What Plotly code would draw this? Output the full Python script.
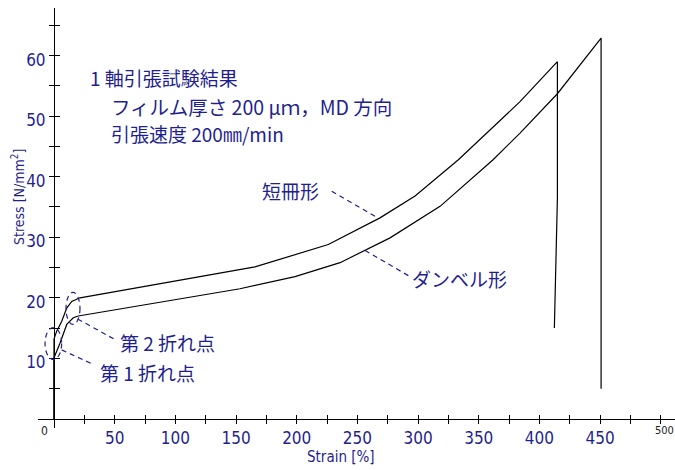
import plotly.graph_objects as go

# ---- data ----
tanzaku_strain = [0, 0, 2.2, 6.3, 10.5, 14.6, 21.4, 165.6, 226.0, 268.6, 297.5, 333.2, 384.0, 414.8, 414.8, 412.3]
tanzaku_stress = [0, 13.2, 14.5, 16.1, 18.3, 19.4, 20.0, 25.1, 28.8, 33.2, 36.8, 42.8, 52.4, 59.0, 36.5, 15.0]

dumbbell_strain = [0, 0, 4.9, 10.5, 15.9, 20.0, 153.3, 198.6, 235.7, 276.9, 318.1, 361.8, 384.0, 414.8, 450.8, 450.8]
dumbbell_stress = [0, 10.1, 12.5, 15.6, 16.7, 17.0, 21.5, 23.5, 25.8, 29.9, 35.1, 42.8, 47.2, 53.7, 62.9, 5.0]

x_tick_vals = list(range(25, 501, 25))
x_tick_labels = [str(v) if (v % 50 == 0 and v < 500) else "" for v in x_tick_vals]
y_tick_vals = list(range(5, 66, 5))
y_tick_labels = [str(v) if v % 10 == 0 else "" for v in y_tick_vals]

BLUE = "#1f1f8f"
NUM_FONT = "Liberation Sans Narrow, Arial Narrow, DejaVu Sans Condensed, Arial, sans-serif"
JP_FONT = "Noto Sans CJK JP, sans-serif"

X_RANGE = [-13.19, 511.7]
Y_RANGE = [-1.5, 67.86]
xpos = (0 - Y_RANGE[0]) / (Y_RANGE[1] - Y_RANGE[0])
ypos = (0 - X_RANGE[0]) / (X_RANGE[1] - X_RANGE[0])

fig = go.Figure()
fig.add_trace(go.Scatter(x=tanzaku_strain, y=tanzaku_stress, mode="lines",
                         line=dict(color="black", width=1.2), name="短冊形", showlegend=False))
fig.add_trace(go.Scatter(x=dumbbell_strain, y=dumbbell_stress, mode="lines",
                         line=dict(color="black", width=1.2), name="ダンベル形", showlegend=False))
# dummy trace to activate overlay axes (for crossing ticks)
fig.add_trace(go.Scatter(x=[None], y=[None], xaxis="x2", yaxis="y2", showlegend=False))

common = dict(showgrid=False, zeroline=False, anchor="free", automargin=False)
fig.update_layout(
    width=675, height=470,
    margin=dict(l=38, r=0, t=8, b=42, autoexpand=False),
    paper_bgcolor="white", plot_bgcolor="white",
    showlegend=False,
    xaxis=dict(range=X_RANGE, position=xpos, showline=True, linecolor="black", linewidth=1,
               ticks="outside", ticklen=4, tickcolor="black", tickwidth=1,
               tickmode="array", tickvals=x_tick_vals, ticktext=x_tick_labels,
               tickfont=dict(family=NUM_FONT, size=17, color=BLUE), **common),
    yaxis=dict(range=Y_RANGE, position=ypos, showline=True, linecolor="black", linewidth=1,
               ticks="outside", ticklen=5, tickcolor="black", tickwidth=1,
               tickmode="array", tickvals=y_tick_vals, ticktext=y_tick_labels,
               ticklabelshift=4,
               tickfont=dict(family=NUM_FONT, size=17, color=BLUE), **common),
    xaxis2=dict(range=X_RANGE, overlaying="x", position=xpos, showline=False,
                ticks="inside", ticklen=4, tickcolor="black", tickwidth=1,
                tickmode="array", tickvals=x_tick_vals, showticklabels=False, **common),
    yaxis2=dict(range=Y_RANGE, overlaying="y", position=ypos, showline=False,
                ticks="inside", ticklen=5, tickcolor="black", tickwidth=1,
                tickmode="array", tickvals=y_tick_vals, showticklabels=False, **common),
)

ann = []
def txt(x, y, s, size=19, xanchor="left", color=BLUE, font=JP_FONT, ref="paper", **kw):
    ann.append(dict(x=x, y=y, xref=ref, yref=ref, text=s, showarrow=False,
                    xanchor=xanchor, yanchor="middle",
                    font=dict(family=font, size=size, color=color), **kw))

# pixel-based paper coordinates helper
W, H = 675, 470
L, R, T, B = 38, 0, 8, 42
def px(xp):
    return (xp - L) / (W - L - R)
def py(yp):
    return 1 - (yp - T) / (H - T - B)

txt(px(88), py(78), "1 軸引張試験結果")
txt(px(109), py(106), "フィルム厚さ 200 μｍ，MD 方向", size=19.5)
txt(px(109), py(133), "引張速度 200㎜/min")
txt(px(260), py(190), "短冊形")
txt(px(410), py(278), "ダンベル形")
txt(px(118), py(342), "第 2 折れ点")
txt(px(98), py(372), "第 1 折れ点")
txt(px(44), py(431), "0", size=12, xanchor="center", color="#222222", font=NUM_FONT)
txt(px(653), py(430), "500", size=11, xanchor="left", color="#222222", font=NUM_FONT)
txt(px(341), py(457), "Strain [%]", size=15, xanchor="center", font=NUM_FONT)
ann.append(dict(x=px(18), y=py(197), xref="paper", yref="paper",
                text="Stress [N/mm<sup>2</sup>]", showarrow=False, textangle=-90,
                xanchor="center", yanchor="middle",
                font=dict(family=NUM_FONT, size=14, color=BLUE)))
fig.update_layout(annotations=ann)

DASH = dict(color=BLUE, width=1.2, dash="5px,4px")
shapes = [
    dict(type="circle", xref="x", yref="y", x0=-7.4, x1=6.3, y0=9.8, y1=15.1, line=DASH),
    dict(type="circle", xref="x", yref="y", x0=9.9, x1=21.4, y0=15.6, y1=20.9, line=DASH),
    dict(type="line", xref="x", yref="y", x0=228.8, y0=37.6, x1=265.9, y1=33.3, line=DASH),
    dict(type="line", xref="x", yref="y", x0=256.3, y0=27.8, x1=293.4, y1=23.5, line=DASH),
    dict(type="line", xref="x", yref="y", x0=19.5, y0=16.5, x1=50.3, y1=13.1, line=DASH),
    dict(type="line", xref="x", yref="y", x0=6.3, y0=11.4, x1=32.4, y1=9.0, line=DASH),
]
fig.update_layout(shapes=shapes)

fig.write_html("out.html", config={"displayModeBar": False},
               post_script="document.body.style.margin='0';document.body.style.padding='0';")
